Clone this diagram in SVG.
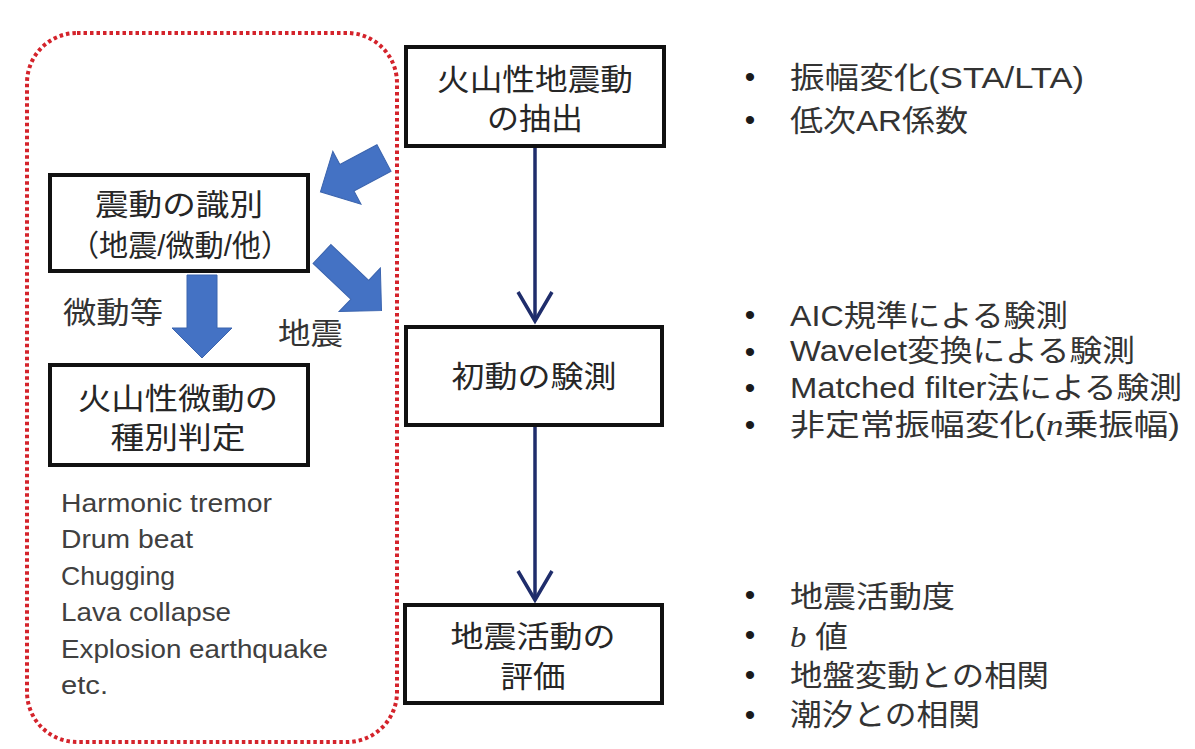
<svg xmlns="http://www.w3.org/2000/svg" width="1195" height="749" viewBox="0 0 1195 749">
<style>
.box{fill:#ffffff;stroke:#111111;stroke-width:4}
.bt{font-family:"Liberation Sans","Noto Sans CJK JP",sans-serif;font-size:30px;fill:#262626;text-anchor:middle}
.lt{font-family:"Liberation Sans","Noto Sans CJK JP",sans-serif;font-size:30px;fill:#333333}
.lst{font-family:"Liberation Sans",sans-serif;font-size:26px;fill:#404040}
.bul{font-family:"Liberation Sans",sans-serif;font-size:30px;fill:#1a1a1a;text-anchor:middle}
.it{font-family:"Liberation Serif",serif;font-style:italic}
.flow{stroke:#1F2D6B;stroke-width:3.5;fill:none}
.blk{fill:#4472C4;stroke:#3B64AE;stroke-width:1}
.lab{font-family:"Liberation Sans","Noto Sans CJK JP",sans-serif;font-size:30px;fill:#333333}
</style>
<defs>
<marker id="vhead" viewBox="-34 -20 38 40" markerWidth="38" markerHeight="40" refX="0" refY="0" orient="auto" markerUnits="userSpaceOnUse">
<path d="M-29,-17 L0,0 L-29,17" fill="none" stroke="#1F2D6B" stroke-width="3.5"/>
</marker>
</defs>
<rect width="1195" height="749" fill="#ffffff"/>

<g id="group-frame">
<rect x="27" y="33" width="370" height="709" rx="50" ry="50" fill="none" stroke="#D4232B" stroke-width="4" stroke-dasharray="3.5 3"/>
</g>

<g id="connectors">
<line class="flow" x1="535" y1="148" x2="535" y2="321" marker-end="url(#vhead)"/>
<line class="flow" x1="535" y1="427" x2="535" y2="600" marker-end="url(#vhead)"/>
<polygon class="blk" transform="translate(384,158) rotate(152)" points="0,-15 42,-15 42,-30 72,0 42,30 42,15 0,15"/>
<polygon class="blk" transform="translate(322,254) rotate(43.5)" points="0,-13 52,-13 52,-30 82,0 52,30 52,13 0,13"/>
<polygon class="blk" points="187,275 217,275 217,328 232,328 202,358 172,328 187,328"/>
<text class="lab" x="63" y="323" textLength="100" lengthAdjust="spacingAndGlyphs">微動等</text>
<text class="lab" x="278" y="344" textLength="65" lengthAdjust="spacingAndGlyphs">地震</text>
</g>

<g id="node-extract">
<rect class="box" x="406" y="47" width="258" height="99"/>
<text class="bt" x="535" y="90" textLength="196" lengthAdjust="spacingAndGlyphs">火山性地震動</text>
<text class="bt" x="535" y="129" textLength="96" lengthAdjust="spacingAndGlyphs">の抽出</text>
</g>

<g id="node-onset">
<rect class="box" x="406" y="327" width="256" height="98"/>
<text class="bt" x="534" y="387" textLength="165" lengthAdjust="spacingAndGlyphs">初動の験測</text>
</g>

<g id="node-evaluate">
<rect class="box" x="405" y="605" width="257" height="98"/>
<text class="bt" x="533" y="647" textLength="165" lengthAdjust="spacingAndGlyphs">地震活動の</text>
<text class="bt" x="533" y="687" textLength="65" lengthAdjust="spacingAndGlyphs">評価</text>
</g>

<g id="node-identify">
<rect class="box" x="50" y="175" width="258" height="96"/>
<text class="bt" x="179" y="215" textLength="168" lengthAdjust="spacingAndGlyphs">震動の識別</text>
<text class="bt" x="180" y="256" textLength="220" lengthAdjust="spacingAndGlyphs">（地震/微動/他）</text>
</g>

<g id="node-classify">
<rect class="box" x="50" y="365" width="258" height="100"/>
<text class="bt" x="178" y="409" textLength="200" lengthAdjust="spacingAndGlyphs">火山性微動の</text>
<text class="bt" x="178" y="448" textLength="135" lengthAdjust="spacingAndGlyphs">種別判定</text>
</g>

<g id="tremor-types">
<text class="lst" x="61" y="512" textLength="211" lengthAdjust="spacingAndGlyphs">Harmonic tremor</text>
<text class="lst" x="61" y="548" textLength="132" lengthAdjust="spacingAndGlyphs">Drum beat</text>
<text class="lst" x="61" y="585" textLength="114" lengthAdjust="spacingAndGlyphs">Chugging</text>
<text class="lst" x="61" y="621" textLength="170" lengthAdjust="spacingAndGlyphs">Lava collapse</text>
<text class="lst" x="61" y="658" textLength="267" lengthAdjust="spacingAndGlyphs">Explosion earthquake</text>
<text class="lst" x="61" y="694" textLength="47" lengthAdjust="spacingAndGlyphs">etc.</text>
</g>

<g id="notes-extract">
<text class="bul" x="750" y="87">•</text>
<text class="bul" x="750" y="130">•</text>
<text class="lt" x="790" y="88" textLength="294" lengthAdjust="spacingAndGlyphs">振幅変化(STA/LTA)</text>
<text class="lt" x="790" y="131" textLength="178" lengthAdjust="spacingAndGlyphs">低次AR係数</text>
</g>

<g id="notes-onset">
<text class="bul" x="750" y="325">•</text>
<text class="bul" x="750" y="362">•</text>
<text class="bul" x="750" y="398">•</text>
<text class="bul" x="750" y="435">•</text>
<text class="lt" x="790" y="326" textLength="278" lengthAdjust="spacingAndGlyphs">AIC規準による験測</text>
<text class="lt" x="790" y="361" textLength="345" lengthAdjust="spacingAndGlyphs">Wavelet変換による験測</text>
<text class="lt" x="790" y="398" textLength="392" lengthAdjust="spacingAndGlyphs">Matched filter法による験測</text>
<text class="lt" x="790" y="435" textLength="390" lengthAdjust="spacingAndGlyphs">非定常振幅変化(<tspan class="it">n</tspan>乗振幅)</text>
</g>

<g id="notes-evaluate">
<text class="bul" x="750" y="605">•</text>
<text class="bul" x="750" y="645">•</text>
<text class="bul" x="750" y="685">•</text>
<text class="bul" x="750" y="725">•</text>
<text class="lt" x="790" y="607" textLength="165" lengthAdjust="spacingAndGlyphs">地震活動度</text>
<text class="lt" x="790" y="647" textLength="58" lengthAdjust="spacingAndGlyphs"><tspan class="it">b</tspan> 値</text>
<text class="lt" x="790" y="686" textLength="259" lengthAdjust="spacingAndGlyphs">地盤変動との相関</text>
<text class="lt" x="790" y="725" textLength="190" lengthAdjust="spacingAndGlyphs">潮汐との相関</text>
</g>
</svg>
